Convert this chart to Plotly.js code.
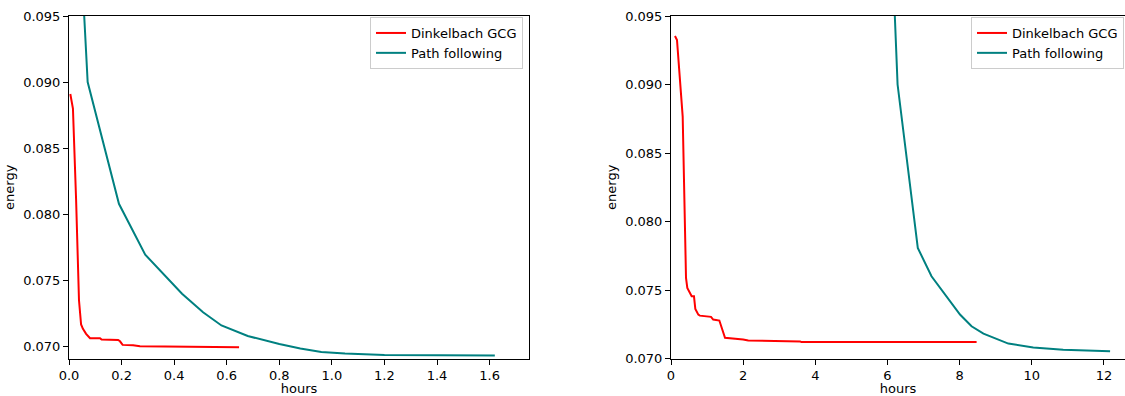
<!DOCTYPE html>
<html>
<head>
<meta charset="utf-8">
<script src="https://cdn.plot.ly/plotly-3.0.1.min.js"></script>
<style>html,body{margin:0;padding:0;background:#fff;}#chart{width:1125px;height:396px;}</style>
</head>
<body>
<div id="chart"></div>
<script>
// Left panel
const leftDinkX = [0.005, 0.015, 0.027, 0.038, 0.046, 0.053, 0.065, 0.080, 0.118, 0.124, 0.187, 0.194, 0.204, 0.244, 0.27, 0.346, 0.647];
const leftDinkY = [0.0891, 0.0880, 0.0811, 0.0735, 0.07167, 0.07134, 0.07096, 0.07063, 0.07063, 0.07053, 0.0705, 0.0704, 0.07013, 0.07010, 0.07002, 0.07000, 0.06995];
const leftPathX = [0.050, 0.071, 0.19, 0.29, 0.43, 0.51, 0.58, 0.68, 0.80, 0.88, 0.96, 1.05, 1.20, 1.40, 1.62];
const leftPathY = [0.0980, 0.0900, 0.0808, 0.07695, 0.0740, 0.0726, 0.0716, 0.0708, 0.0702, 0.06985, 0.0696, 0.06948, 0.06937, 0.06933, 0.06932];
// Right panel
const rightDinkX = [0.11, 0.166, 0.324, 0.37, 0.416, 0.452, 0.527, 0.573, 0.637, 0.674, 0.757, 0.80, 1.109, 1.17, 1.34, 1.40, 1.497, 2.0, 2.14, 3.58, 3.62, 8.47];
const rightDinkY = [0.09354, 0.09325, 0.08766, 0.08159, 0.07588, 0.07515, 0.07479, 0.07454, 0.07454, 0.07362, 0.0732, 0.07313, 0.07304, 0.07284, 0.07277, 0.07224, 0.07151, 0.07139, 0.07131, 0.07124, 0.0712, 0.0712];
const rightPathX = [6.15, 6.28, 6.84, 7.22, 8.01, 8.33, 8.66, 9.35, 10.04, 10.87, 12.17];
const rightPathY = [0.0985, 0.0900, 0.07807, 0.07600, 0.07321, 0.07235, 0.07182, 0.07109, 0.0708, 0.07063, 0.07053];

const names = ['Dinkelbach GCG', 'Path following'];
const leftYTicks = [0.070, 0.075, 0.080, 0.085, 0.090, 0.095];
const leftXTicks = [0.0, 0.2, 0.4, 0.6, 0.8, 1.0, 1.2, 1.4, 1.6];
const rightYTicks = [0.070, 0.075, 0.080, 0.085, 0.090, 0.095];
const rightXTicks = [0, 2, 4, 6, 8, 10, 12];

const RED = '#ff0000', TEAL = '#008080';
const W = 1125, H = 396;
const font = {family: 'DejaVu Sans, sans-serif', size: 13, color: '#000'};

const traces = [
  {x: leftDinkX, y: leftDinkY, name: names[0], mode: 'lines', line: {color: RED, width: 2}, xaxis: 'x', yaxis: 'y', legend: 'legend'},
  {x: leftPathX, y: leftPathY, name: names[1], mode: 'lines', line: {color: TEAL, width: 2}, xaxis: 'x', yaxis: 'y', legend: 'legend'},
  {x: rightDinkX, y: rightDinkY, name: names[0], mode: 'lines', line: {color: RED, width: 2}, xaxis: 'x2', yaxis: 'y2', legend: 'legend2'},
  {x: rightPathX, y: rightPathY, name: names[1], mode: 'lines', line: {color: TEAL, width: 2}, xaxis: 'x2', yaxis: 'y2', legend: 'legend2'}
];

const yDom = [1 - 358.5 / H, 1 - 16 / H];
const axBase = {showline: true, linecolor: '#000', linewidth: 1, mirror: true, ticks: 'outside', ticklen: 5, tickwidth: 1, tickcolor: '#000', showgrid: false, zeroline: false, tickfont: font};

const layout = {
  width: W, height: H,
  margin: {l: 0, r: 0, t: 0, b: 0},
  paper_bgcolor: '#fff', plot_bgcolor: '#fff',
  font: font,
  showlegend: true,
  xaxis: Object.assign({}, axBase, {domain: [69 / W, 529 / W], range: [0, 1.75], tickvals: leftXTicks, tickformat: '.1f', title: {text: 'hours', font: font, standoff: 5}, anchor: 'y'}),
  yaxis: Object.assign({}, axBase, {domain: yDom, range: [0.0691, 0.095], tickvals: leftYTicks, tickformat: '.3f', title: {text: 'energy', font: font, standoff: 5}, anchor: 'x'}),
  xaxis2: Object.assign({}, axBase, {domain: [671 / W, 1], range: [0, (W - 671) / 36.08], tickvals: rightXTicks, tickformat: 'd', title: {text: 'hours', font: font, standoff: 5}, anchor: 'y2'}),
  yaxis2: Object.assign({}, axBase, {mirror: false, domain: yDom, range: [0.070, 0.095], tickvals: rightYTicks, tickformat: '.3f', title: {text: 'energy', font: font, standoff: 5}, anchor: 'x2'}),
  legend: {x: 523 / W, y: 1 - 17 / H, xanchor: 'right', yanchor: 'top', bgcolor: 'rgba(255,255,255,0.8)', bordercolor: '#cccccc', borderwidth: 1, font: font, tracegroupgap: 0, itemwidth: 30},
  legend2: {x: 1124 / W, y: 1 - 17 / H, xanchor: 'right', yanchor: 'top', bgcolor: 'rgba(255,255,255,0.8)', bordercolor: '#cccccc', borderwidth: 1, font: font, tracegroupgap: 0, itemwidth: 30}
};

Plotly.newPlot('chart', traces, layout, {staticPlot: true, displayModeBar: false});
</script>
</body>
</html>
